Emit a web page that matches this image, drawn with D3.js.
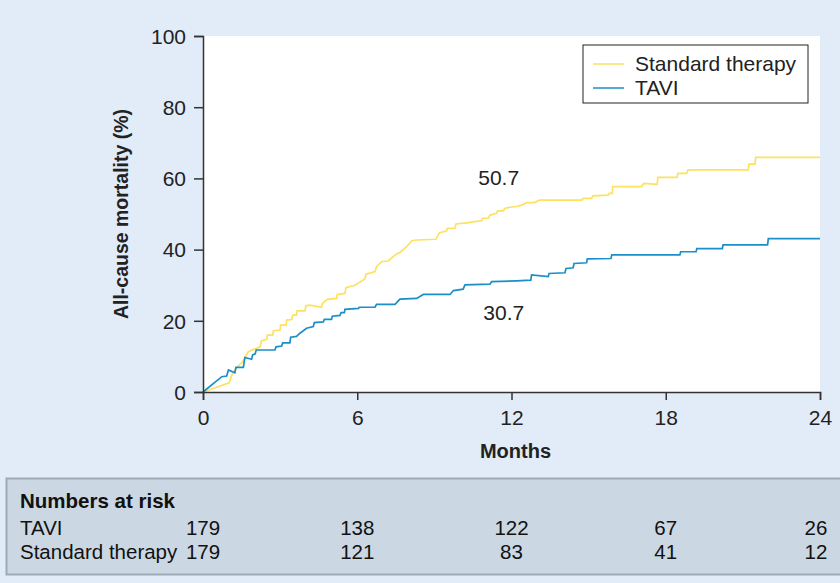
<!DOCTYPE html>
<html>
<head>
<meta charset="utf-8">
<script src="https://cdn.jsdelivr.net/npm/d3@7"></script>
<style>
  body { margin: 0; background: #e1ecf8; }
  svg { display: block; font-family: "Liberation Sans", Arial, sans-serif; }
</style>
</head>
<body>
<div id="chart"></div>
<script>
// Kaplan-Meier style curves (months, % mortality)
var stdMonths = [0, 1.02, 1.12, 1.31, 1.54, 1.76, 2.22, 2.28, 2.48, 2.5, 2.71, 2.74, 3.0, 3.02, 3.23, 3.26,
  3.45, 3.49, 3.64, 3.66, 3.97, 4.0, 4.16, 4.61, 4.65, 4.84, 5.2, 5.22, 5.52, 5.56, 5.91, 6.24, 6.3, 6.34,
  6.69, 6.75, 6.95, 7.2, 7.53, 7.66, 7.92, 8.12, 8.31, 9.06, 9.19, 9.48, 9.5, 9.8, 9.84, 10.34, 10.49,
  10.84, 10.88, 11.1, 11.16, 11.42, 11.46, 11.68, 11.75, 11.94, 12.2, 12.4, 12.6, 12.91, 13.08, 14.73,
  14.79, 15.12, 15.16, 15.76, 15.8, 15.92, 15.94, 17.06, 17.15, 17.67, 17.69, 18.44, 18.47, 18.81, 18.87,
  21.21, 21.24, 21.47, 21.5, 24];
var stdPct = [0, 2.6, 4.8, 6.9, 8.5, 11.3, 12.7, 14.4, 14.8, 16.0, 16.0, 17.2, 17.4, 18.8, 18.8, 20.2,
  20.4, 21.6, 21.6, 22.8, 22.8, 24.2, 24.4, 23.8, 24.9, 26.0, 26.3, 27.4, 27.7, 29.3, 30.0, 31.5, 31.9, 33.1,
  33.8, 35.2, 36.6, 36.8, 38.8, 39.2, 40.8, 42.5, 42.7, 42.9, 44.7, 45.3, 46.0, 46.0, 47.2, 47.6, 47.8,
  48.1, 48.8, 48.8, 49.7, 50.2, 50.9, 50.9, 51.6, 51.9, 52.1, 52.5, 53.2, 53.2, 53.9, 53.9,
  54.4, 54.4, 55.1, 55.3, 55.8, 55.8, 57.7, 57.7, 58.6, 58.3, 60.3, 60.3, 61.4, 61.4, 62.4,
  62.4, 64.0, 64.0, 65.9, 65.9];

var taviMonths = [0, 0.73, 0.92, 0.99, 1.24, 1.28, 1.57, 1.63, 1.89, 1.93, 2.03, 2.07, 2.8, 2.84, 3.06, 3.1,
  3.38, 3.41, 3.64, 3.77, 4.03, 4.29, 4.33, 4.68, 4.72, 5.0, 5.03, 5.33, 5.37, 5.5, 5.52, 6.05, 6.08, 6.69,
  6.75, 7.47, 7.66, 8.31, 8.57, 9.61, 9.74, 10.12, 10.19, 11.16, 11.23, 12.2, 12.75, 12.78, 13.43, 13.46,
  14.08, 14.12, 14.4, 14.43, 14.92, 14.95, 15.87, 15.9, 18.55, 18.58, 19.18, 19.21, 20.2, 20.23, 21.96,
  21.99, 24];
var taviPct = [0, 4.3, 4.5, 6.2, 5.4, 6.9, 6.9, 9.7, 9.2, 10.4, 10.7, 11.8, 11.8, 12.7, 12.9, 13.8,
  13.8, 15.4, 15.6, 16.5, 17.9, 18.4, 19.5, 19.7, 20.4, 20.4, 21.3, 21.5, 22.3, 22.3, 23.2, 23.5, 23.8, 23.8,
  24.6, 24.6, 26.1, 26.3, 27.4, 27.4, 28.5, 28.9, 30.1, 30.3, 31.0, 31.2, 31.4, 32.9, 32.4, 33.3,
  33.5, 34.7, 34.9, 36.1, 36.3, 37.4, 37.5, 38.5, 38.5, 39.4, 39.4, 40.3, 40.3, 41.3, 41.3,
  43.1, 43.1];

var xTicks = [0, 6, 12, 18, 24];
var yTicks = [0, 20, 40, 60, 80, 100];

var riskGroups = ["TAVI", "Standard therapy"];
var taviAtRisk = [179, 138, 122, 67, 26];
var stdAtRisk = [179, 121, 83, 41, 12];

var annotations = [
  {label: "50.7", month: 11.5, pct: 58.2},
  {label: "30.7", month: 11.7, pct: 20.3}
];

var svgWidth = 840;
var svgHeight = 583;

var margin = {top: 36, right: 20, bottom: 191, left: 203};
var width = svgWidth - margin.left - margin.right;
var height = svgHeight - margin.top - margin.bottom;

var yellow = "#fde15f";
var blue = "#1a8fc8";

var svg = d3.select("#chart")
  .append("svg")
  .attr("width", svgWidth)
  .attr("height", svgHeight);

svg.append("rect")
  .attr("width", svgWidth)
  .attr("height", svgHeight)
  .attr("fill", "#e1ecf8");

var chartGroup = svg.append("g")
  .attr("transform", `translate(${margin.left}, ${margin.top})`);

var xScale = d3.scaleLinear().domain([0, 24]).range([0, width]);
var yScale = d3.scaleLinear().domain([0, 100]).range([height, 0]);

// white plotting area
chartGroup.append("rect")
  .attr("width", width)
  .attr("height", height)
  .attr("fill", "#ffffff");

var line = d3.line()
  .x(d => xScale(d[0]))
  .y(d => yScale(d[1]));

var stdData = stdMonths.map((m, i) => [m, stdPct[i]]);
var taviData = taviMonths.map((m, i) => [m, taviPct[i]]);

chartGroup.append("path")
  .datum(stdData)
  .attr("d", line)
  .attr("fill", "none")
  .attr("stroke", yellow)
  .attr("stroke-width", 1.7);

chartGroup.append("path")
  .datum(taviData)
  .attr("d", line)
  .attr("fill", "none")
  .attr("stroke", blue)
  .attr("stroke-width", 1.7);

// axes
var bottomAxis = d3.axisBottom(xScale).tickValues(xTicks).tickSize(8).tickPadding(10);
var leftAxis = d3.axisLeft(yScale).tickValues(yTicks).tickSize(9).tickPadding(8);

var xAxis = chartGroup.append("g")
  .attr("transform", `translate(0, ${height})`)
  .call(bottomAxis);

var yAxis = chartGroup.append("g")
  .call(leftAxis);

[xAxis, yAxis].forEach(function(ax) {
  ax.select(".domain").attr("stroke", "#333").attr("stroke-width", 1.5);
  ax.selectAll(".tick line").attr("stroke", "#333").attr("stroke-width", 1.5);
  ax.selectAll("text")
    .attr("fill", "#222")
    .style("font-size", "21px")
    .style("font-family", "Liberation Sans, Arial, sans-serif");
});
yAxis.selectAll("text").attr("dy", "0.35em");

chartGroup.append("text")
  .attr("x", width / 2 + 4)
  .attr("y", height + 66)
  .attr("text-anchor", "middle")
  .style("font-size", "20px")
  .style("font-weight", "bold")
  .attr("fill", "#222")
  .text("Months");

chartGroup.append("text")
  .attr("transform", "rotate(-90)")
  .attr("x", 0 - (height / 2) + 0)
  .attr("y", -75)
  .attr("text-anchor", "middle")
  .style("font-size", "19.5px")
  .style("font-weight", "bold")
  .attr("fill", "#222")
  .text("All-cause mortality (%)");

// value labels
chartGroup.selectAll(".anno")
  .data(annotations)
  .enter()
  .append("text")
  .attr("class", "anno")
  .attr("x", d => xScale(d.month))
  .attr("y", d => yScale(d.pct))
  .attr("text-anchor", "middle")
  .style("font-size", "21px")
  .attr("fill", "#222")
  .text(d => d.label);

// legend
var legend = chartGroup.append("g")
  .attr("transform", `translate(${width - 237}, 9)`);

legend.append("rect")
  .attr("width", 225)
  .attr("height", 58)
  .attr("fill", "#ffffff")
  .attr("stroke", "#222")
  .attr("stroke-width", 1);

var legendItems = [
  {label: "Standard therapy", color: yellow},
  {label: "TAVI", color: blue}
];

legendItems.forEach(function(item, i) {
  legend.append("line")
    .attr("x1", 10)
    .attr("x2", 41)
    .attr("y1", 19 + i * 24)
    .attr("y2", 19 + i * 24)
    .attr("stroke", item.color)
    .attr("stroke-width", 1.5);
  legend.append("text")
    .attr("x", 52)
    .attr("y", 19 + i * 24)
    .attr("dy", "0.35em")
    .style("font-size", "21px")
    .attr("fill", "#222")
    .text(item.label);
});

// numbers at risk table
var table = svg.append("g");

table.append("rect")
  .attr("x", 6.5)
  .attr("y", 478.5)
  .attr("width", 840)
  .attr("height", 96)
  .attr("fill", "#cbd8e3")
  .attr("stroke", "#9eaab6")
  .attr("stroke-width", 2);

table.append("text")
  .attr("x", 20)
  .attr("y", 508)
  .style("font-size", "20.5px")
  .style("font-weight", "bold")
  .attr("fill", "#111")
  .text("Numbers at risk");

var rows = [taviAtRisk, stdAtRisk];
rows.forEach(function(row, r) {
  var rowY = 535 + r * 23.5;
  table.append("text")
    .attr("x", 20)
    .attr("y", rowY)
    .style("font-size", "20.5px")
    .attr("fill", "#111")
    .text(riskGroups[r]);
  table.selectAll(".risk" + r)
    .data(row)
    .enter()
    .append("text")
    .attr("class", "risk" + r)
    .attr("x", (d, i) => margin.left + xScale(xTicks[i]) - (i === xTicks.length - 1 ? 4 : 0))
    .attr("y", rowY)
    .attr("text-anchor", "middle")
    .style("font-size", "20.5px")
    .attr("fill", "#111")
    .text(d => d);
});
</script>
</body>
</html>
